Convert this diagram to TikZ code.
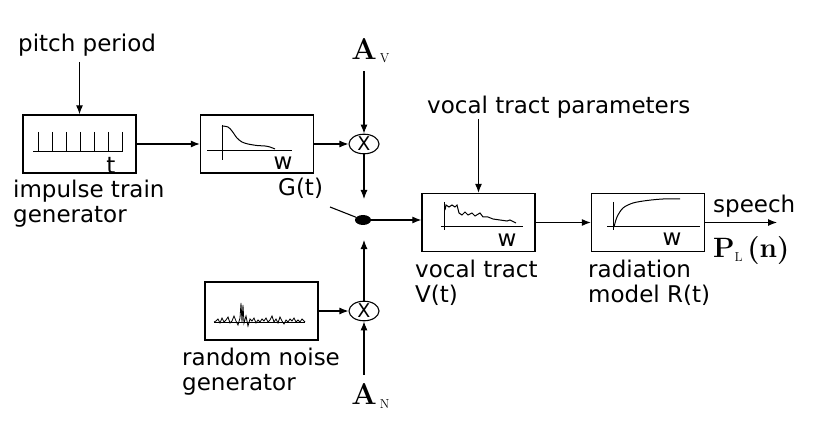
\documentclass[tikz,border=0pt]{standalone}
\usepackage{fontspec}
\setsansfont{DejaVu Sans}
\usetikzlibrary{arrows.meta,positioning,shapes.geometric}

\begin{document}
\begin{tikzpicture}[x=1pt,y=-1pt,
				font=\sffamily\fontsize{23}{25}\selectfont,
				block/.style={draw,rectangle,minimum width=113pt,minimum height=58pt,inner sep=0pt,line width=1.3pt},
				mult/.style={draw,ellipse,minimum width=30pt,minimum height=19pt,inner sep=0pt,line width=1.1pt,font=\sffamily\fontsize{19}{19}\selectfont},
				dot/.style={fill,ellipse,minimum width=16pt,minimum height=10pt,inner sep=0pt},
				lbl/.style={inner sep=0pt,anchor=base west},
				twolbl/.style={inner sep=0pt,anchor=north west,align=left},
				amp/.style={inner xsep=0pt,inner ysep=8pt,anchor=base,font=\rmfamily\bfseries\fontsize{30}{30}\selectfont},
				arr/.style={-{Latex[length=9pt,width=7pt]},line width=1.1pt},
				sketch/.style={line width=1pt}
			]
			\useasboundingbox (0,0) rectangle (828,433);

			% blocks
			\node[block] (imp) at (79.5,144) {};
			\node[block] (gbox) at (257,144) {};
			\node[block] (noise) at (261.5,311) {};
			\node[block] (vocal) at (478.5,222.5) {};
			\node[block] (rad) at (648,222.5) {};

			% gains and switch
			\node[mult] (mulv) at (364,144) {X};
			\node[mult] (muln) at (364,311) {X};
			\node[amp] (av) at (364,60) {A\rlap{\hspace{3pt}\raisebox{-3pt}{\mdseries\fontsize{13}{13}\selectfont V}}};
			\node[amp] (an) at (364,404) {A\rlap{\hspace{3pt}\raisebox{-4pt}{\mdseries\fontsize{13}{13}\selectfont N}}};
			\node[dot] (sw) at (363,220) {};
			\coordinate (gin) at (364,199);
			\coordinate (nin) at (364,240);
			\coordinate (swend) at (330,207);
			\coordinate (out) at (777,222.5);

			% labels
			\node[lbl] (pitch) at (18,52) {pitch period};
			\node[lbl] (params) at (427,114) {vocal tract parameters};
			\node[lbl] (gt) at (278,196) {G(t)};
			\node[lbl] (speech) at (713,213) {speech};
			\node[lbl,font=\rmfamily\bfseries\fontsize{28}{28}\selectfont] (pl) at (713,257) {P\raisebox{-4pt}{\mdseries\fontsize{13}{13}\selectfont L}\,(n)};
			\node[twolbl] (implbl) at (13,179.5) {impulse train\\generator};
			\node[twolbl] (noiselbl) at (182,347.5) {random noise\\generator};
			\node[twolbl] (vocallbl) at (415,259.5) {vocal tract\\V(t)};
			\node[twolbl] (radlbl) at (588,259.5) {radiation\\model R(t)};

			% connectors
			\draw[arr,shorten <=5pt] (pitch.south -| imp.north) -- (imp.north);
			\draw[arr] (imp) -- (gbox);
			\draw[arr] (gbox) -- (mulv);
			\draw[arr] (av.south) -- (mulv.north);
			\draw[arr] (mulv) -- (gin);
			\draw[arr] (noise) -- (muln);
			\draw[arr] (an.north) -- (muln.south);
			\draw[arr] (muln) -- (nin);
			\draw[line width=1.1pt] (swend) -- (sw);
			\draw[arr] (sw) -- (vocal.west |- sw);
			\draw[arr] (params.south -| vocal.north) -- (vocal.north);
			\draw[arr] (vocal) -- (rad);
			\draw[arr] (rad) -- (out);

			% impulse train
			\draw[sketch] (33,152) -- (123,152);
			\foreach \x in {38,52,...,122}
				\draw[sketch] (\x,132) -- (\x,152);
			\node[inner sep=0pt,anchor=base] (tlbl) at (111,174) {t};

			% glottal pulse spectrum
			\draw[sketch] (222,125) -- (222,160);
			\draw[sketch] (207,151) -- (292,151);
			\draw[sketch] plot[smooth] coordinates {(222,126) (228,127) (232,131) (237,138) (242,142) (248,144) (257,145.5) (265,146) (270,147) (275,149)};
			\node[inner sep=0pt,anchor=base] (gw) at (283,170) {w};

			% noise
			\draw[line width=0.6pt] (214,322) -- (305,322);
			\draw[line width=0.8pt] plot coordinates {(214,322) (216,321) (218,319) (220,323) (222,318) (224,322) (226,320) (228,317) (230,323) (232,321) (234,316) (236,321) (238,325) (240,318) (241,303) (242,322) (243,305) (244,323) (246,316) (248,326) (250,319) (252,321) (254,318) (256,323) (258,320) (260,322) (262,319) (264,321) (266,318) (268,322) (270,320) (272,316) (274,322) (276,319) (278,323) (280,317) (282,321) (284,324) (286,320) (288,322) (290,319) (292,321) (294,318) (296,322) (298,320) (300,322) (302,319) (305,322)};

			% vocal tract spectrum
			\draw[sketch] (444,202) -- (444,230);
			\draw[sketch] (441,227) -- (523,227);
			\draw[sketch] plot coordinates {(445,210) (446,205) (449,207) (452,205) (455,207) (457,205) (459,213) (462,215) (465,212) (468,215) (472,213) (475,216) (480,213) (483,217) (488,217) (493,219) (500,220) (507,221) (510,220) (516,223)};
			\node[inner sep=0pt,anchor=base] (vw) at (507,247) {w};

			% radiation
			\draw[sketch] (613,202) -- (613,230);
			\draw[sketch] (607,227) -- (700,227);
			\draw[sketch] plot[smooth] coordinates {(614,227) (617,217) (623,208) (633,203) (647,200.5) (663,199) (680,199)};
			\node[inner sep=0pt,anchor=base] (rw) at (672,245) {w};
		\end{tikzpicture}
\end{document}
